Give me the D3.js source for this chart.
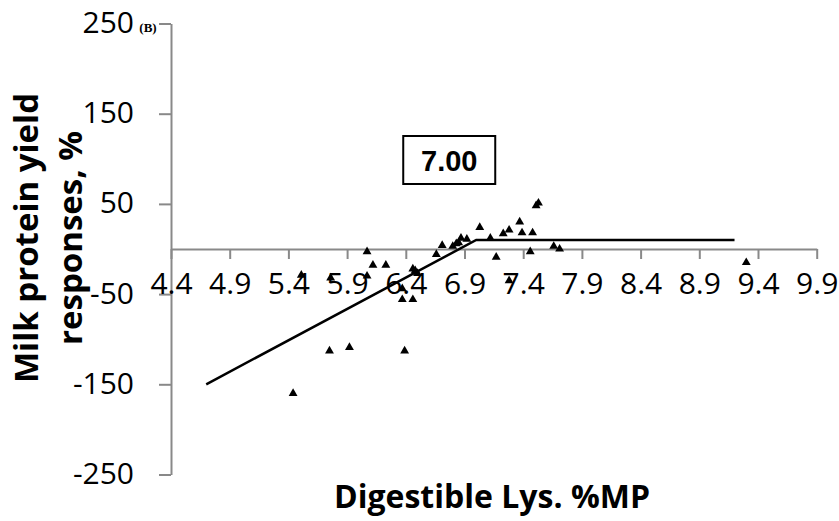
<!DOCTYPE html>
<html>
<head>
<meta charset="utf-8">
<script src="https://cdn.jsdelivr.net/npm/d3@7"></script>
<style>
  html, body { margin: 0; padding: 0; background: #fff; }
  svg { display: block; }
</style>
</head>
<body>
<figure id="chart" style="margin:0"></figure>
<script>
// digestible Lys (%MP) vs milk protein yield response (%)
const lysX = [5.44, 5.51, 5.76, 5.75, 5.92, 6.07, 6.07, 6.12, 6.23, 6.37,
              6.37, 6.46, 6.39, 6.46, 6.48, 6.50, 6.66, 6.71, 6.80, 6.83,
              6.85, 6.87, 6.92, 7.03, 7.12, 7.17, 7.23, 7.28, 7.28, 7.37,
              7.39, 7.48, 7.46, 7.51, 7.53, 7.66, 7.71, 9.30];
const proteinY = [-160, -29, -32, -113, -109, -3, -30, -18, -18, -44,
                  -56, -56, -113, -22, -24, -27, -6, 4, 3, 6,
                  7, 12, 11, 24, 12, -9, 17, 21, -35, 30,
                  18, 18, -3, 48, 51, 3, 0, -15];

// broken-line fit, break point at 7.00
const fitX = [4.7, 7.0, 9.2];
const fitY = [-150, 10, 10];

const xTicks = [4.4, 4.9, 5.4, 5.9, 6.4, 6.9, 7.4, 7.9, 8.4, 8.9, 9.4, 9.9];
const yTicks = [-250, -150, -50, 50, 150, 250];
const breakLabel = "7.00";

const width = 839, height = 521;
const axisColor = "#898989";
const font = "'Open Sans', sans-serif";

const svg = d3.select("#chart").append("svg")
  .attr("width", width)
  .attr("height", height);

const x = d3.scaleLinear().domain([4.4, 9.9]).range([171, 816.7]);
const y = d3.scaleLinear().domain([-250, 250]).range([474.5, 23.5]);

// y axis
svg.append("g")
    .attr("transform", `translate(${x(4.4)},0)`)
    .call(d3.axisLeft(y).tickValues(yTicks).tickFormat(d => String(d))
      .tickSize(12).tickSizeOuter(0).tickPadding(25))
    .call(g => g.selectAll("path, line").attr("stroke", axisColor).attr("stroke-width", 2))
    .call(g => g.selectAll("text").attr("font-family", font).attr("font-size", 30)
      .attr("fill", "#000").attr("dy", "0.3em"));

// x axis crosses at 0
svg.append("g")
    .attr("transform", `translate(0,${y(0)})`)
    .call(d3.axisBottom(x).tickValues(xTicks).tickFormat(d3.format(".1f"))
      .tickSize(10).tickSizeOuter(0).tickPadding(14))
    .call(g => g.selectAll("path, line").attr("stroke", axisColor).attr("stroke-width", 2))
    .call(g => g.selectAll("text").attr("font-family", font).attr("font-size", 30).attr("fill", "#000"));

// fitted line
svg.append("path")
    .datum(fitX.map((d, i) => [d, fitY[i]]))
    .attr("fill", "none")
    .attr("stroke", "#000")
    .attr("stroke-width", 2.5)
    .attr("d", d3.line().x(d => x(d[0])).y(d => y(d[1])));

// points
svg.append("g")
  .selectAll("path")
  .data(lysX.map((d, i) => [d, proteinY[i]]))
  .join("path")
    .attr("transform", d => `translate(${x(d[0])},${y(d[1])})`)
    .attr("d", d3.symbol(d3.symbolTriangle, 34))
    .attr("fill", "#000");

// break point label box
const bx = x(7.0) - 73, by = 136;
svg.append("rect")
    .attr("x", bx).attr("y", by)
    .attr("width", 92).attr("height", 48)
    .attr("fill", "#fff").attr("stroke", "#000").attr("stroke-width", 2);
svg.append("text")
    .attr("x", bx + 46).attr("y", by + 35)
    .attr("text-anchor", "middle")
    .attr("font-family", "'Liberation Sans', Arial, sans-serif")
    .attr("font-weight", "bold")
    .attr("font-size", 29)
    .text(breakLabel);

// panel tag
svg.append("text")
    .attr("x", 148).attr("y", 32)
    .attr("text-anchor", "middle")
    .attr("font-family", "'Liberation Serif', serif")
    .attr("font-weight", "bold")
    .attr("font-size", 13)
    .text("(B)");

// axis titles
svg.append("text")
    .attr("x", 492).attr("y", 508)
    .attr("text-anchor", "middle")
    .attr("font-family", font)
    .attr("font-weight", "bold")
    .attr("font-size", 32)
    .text("Digestible Lys. %MP");

const yTitle = svg.append("text")
    .attr("transform", "translate(38,238) rotate(-90)")
    .attr("text-anchor", "middle")
    .attr("font-family", font)
    .attr("font-weight", "bold")
    .attr("font-size", 33);
yTitle.append("tspan").attr("x", 0).attr("y", 0).text("Milk protein yield");
yTitle.append("tspan").attr("x", 0).attr("y", 44).text("responses, %");
</script>
</body>
</html>
